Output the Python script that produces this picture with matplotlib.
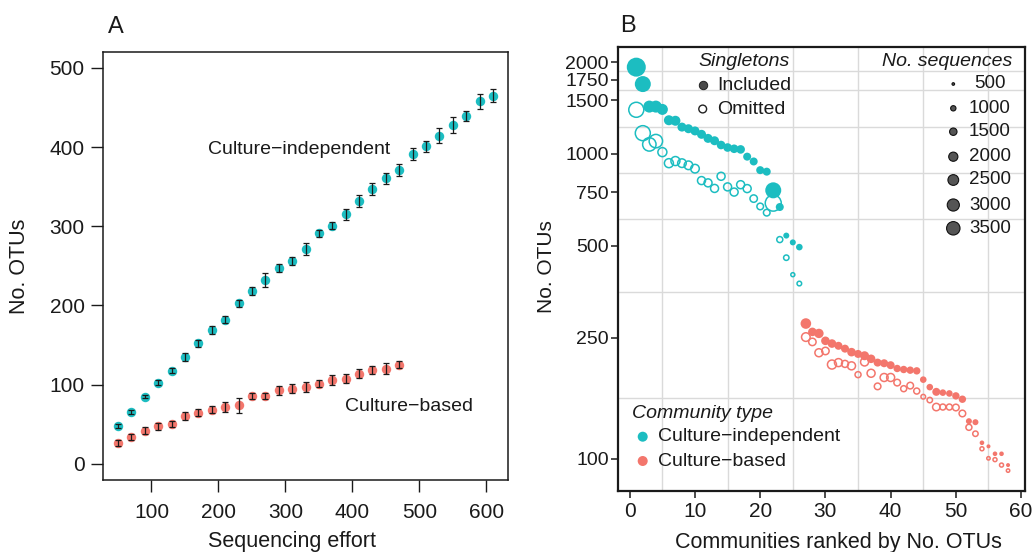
import numpy as np
import matplotlib
matplotlib.use("Agg")
import matplotlib.pyplot as plt
from matplotlib.ticker import NullFormatter

plt.rcParams['font.family'] = ['Liberation Sans', 'DejaVu Sans']

TEAL = "#1CBDC1"
SALMON = "#F3766C"
INK = "#1a1a1a"

# ====== Panel A: rarefaction ======
effort_ci = [50, 70, 90, 110, 130, 150, 170, 190, 210, 230, 250, 270, 290, 310, 330,
             350, 370, 390, 410, 430, 450, 470, 490, 510, 530, 550, 570, 590, 610]
otus_ci = [47.6, 65.3, 84.8, 102.5, 117.7, 135, 151.9, 169, 181.8, 202.5, 218.1, 232, 247.5,
           256.5, 271, 291, 300.5, 315, 332, 347, 360.5, 371, 391.5, 401, 414.5, 428, 439.5,
           457.5, 465]
err_ci = [2.7, 2.1, 2.3, 3.2, 3.6, 5, 4.9, 4.6, 4.6, 4.2, 5.3, 8.4, 4.9, 4.9, 7.8, 4.2, 4.2,
          7, 7.2, 8, 6.8, 7.2, 7.4, 6.8, 8.9, 9.7, 6.3, 9.3, 8]

effort_cb = [50, 70, 90, 110, 130, 150, 170, 190, 210, 230, 250, 270, 290, 310, 330,
             350, 370, 390, 410, 430, 450, 470]
otus_cb = [26.1, 33.7, 41.7, 47.2, 50.6, 59.9, 64.5, 68.3, 71.7, 73.8, 85.6, 85.6, 92.8, 94.9,
           97, 101.3, 105.4, 107.6, 113.9, 118.1, 120.3, 125.3]
err_cb = [4.2, 4.2, 4.6, 4.2, 3.8, 5, 4.6, 4.2, 6.3, 9.3, 4.2, 4, 5.9, 5.5, 6.8, 4.2, 6.3,
          5.9, 5.7, 5, 6.8, 4.2]

# ====== Panel B: ranked communities ======
rank_ci = [1, 2, 3, 4, 5, 6, 7, 8, 9, 10, 11, 12, 13, 14, 15, 16, 17, 18, 19, 20, 21, 22,
           23, 24, 25, 26]
incl_ci = [1926, 1695, 1430, 1430, 1400, 1290, 1285, 1225, 1210, 1190, 1160, 1125, 1105,
           1070, 1050, 1040, 1035, 980, 945, 885, 875, 760, 670, 540, 513, 495]
incl_ci_seq = [6100, 4610, 2950, 2950, 2590, 2255, 2255, 1943, 1943, 1943, 1943, 1943, 1943,
               1825, 1825, 1825, 1825, 1655, 1655, 1655, 1655, 4610, 1655, 1148, 1148, 1290]
omit_ci = [1396, 1170, 1075, 1102, 1014, 933, 948, 933, 918, 895, 818, 804, 771, 845, 780,
           750, 793, 770, 714, 673, 642, 690, 524, 457, 402, 376]
omit_ci_seq = [4160, 4160, 3490, 3490, 1943, 1943, 1943, 1825, 1825, 1825, 1655, 1655, 1655,
               1655, 1655, 1655, 1655, 1655, 1493, 1290, 1290, 4610, 1148, 1014, 733, 848]

rank_cb = [27, 28, 29, 30, 31, 32, 33, 34, 35, 36, 37, 38, 39, 40, 41, 42, 43, 44, 45, 46,
           47, 48, 49, 50, 51, 52, 53, 54, 55, 56, 57, 58]
incl_cb = [278, 261, 258, 244, 239, 235, 230, 224, 221, 218, 213, 207, 206, 203, 198, 196.5,
           195.5, 194.5, 182, 172, 166, 165, 164, 161, 157, 133, 132, 113, 110, 104, 104, 95.5]
incl_cb_seq = [2453, 1825, 2067, 1825, 1825, 1655, 1655, 1825, 1655, 1943, 1825, 1655, 1655,
               1655, 1493, 1493, 1493, 1493, 1290, 1290, 1655, 1290, 1290, 1493, 1493, 1148,
               1148, 848, 733, 848, 848, 733]
omit_cb = [251, 242, 223, 226, 204, 207, 205, 202, 189, 208, 191, 173, 185, 185, 178, 170,
           174, 167, 160, 156, 148, 148, 148, 147.5, 141, 127, 121, 108, 100.5, 99.5, 95.5, 91.6]
omit_cb_seq = [1825, 1493, 1655, 1493, 1943, 1655, 1390, 1655, 1148, 1655, 1655, 1290, 1655,
               1655, 1290, 1148, 1290, 1148, 848, 1014, 1493, 1148, 1148, 1290, 1290, 1148,
               1014, 733, 627, 733, 733, 627]

y_breaks = [100, 250, 500, 750, 1000, 1500, 1750, 2000]
x_breaks = [0, 10, 20, 30, 40, 50, 60]
seq_legend = [500, 1000, 1500, 2000, 2500, 3000, 3500]


def seq_size(n):
    # radius in px grows with sqrt(No. sequences), returned as scatter area (pt^2)
    r_px = np.maximum(0.147 * np.sqrt(np.asarray(n, dtype=float)) - 1.98, 0.8)
    return (2 * r_px * 0.72) ** 2


W, H = 1035, 552
fig = plt.figure(figsize=(W / 100, H / 100), dpi=100)

# ---------- A ----------
axA = fig.add_axes([103 / W, 1 - 480 / H, (508 - 103) / W, (480 - 52) / H])
axA.plot(effort_ci, otus_ci, 'o', color=TEAL, ms=6.8, mec='none', zorder=2)
axA.plot(effort_cb, otus_cb, 'o', color=SALMON, ms=6.8, mec='none', zorder=2)
axA.errorbar(effort_ci, otus_ci, yerr=err_ci, fmt='none', ecolor=INK, elinewidth=0.9,
             capsize=2.3, capthick=0.9, zorder=3)
axA.errorbar(effort_cb, otus_cb, yerr=err_cb, fmt='none', ecolor=INK, elinewidth=0.9,
             capsize=2.3, capthick=0.9, zorder=3)
axA.set_xlim(27.6, 632.4)
axA.set_ylim(-20.5, 520)
axA.set_xticks([100, 200, 300, 400, 500, 600])
axA.set_yticks([0, 100, 200, 300, 400, 500])
axA.tick_params(direction='out', length=8.3, width=1.0, labelsize=15, colors=INK)
axA.tick_params(axis='x', pad=8.5)
axA.tick_params(axis='y', pad=5)
for sp in axA.spines.values():
    sp.set_linewidth(1.1)
    sp.set_color(INK)
axA.set_xlabel("Sequencing effort", fontsize=15.5, color=INK)
axA.xaxis.set_label_coords(0.467, -0.12)
axA.set_ylabel("No. OTUs", fontsize=15.5, color=INK)
axA.yaxis.set_label_coords(-0.18, 0.5)
axA.text(320, 397, "Culture\u2212independent", fontsize=14, ha='center', va='center', color=INK)
axA.text(485, 72, "Culture\u2212based", fontsize=14, ha='center', va='center', color=INK)
fig.text(108 / W, 1 - 27 / H, "A", fontsize=17, va='center', ha='left', color=INK)

# ---------- B ----------
axB = fig.add_axes([617.7 / W, 1 - 490.7 / H, (1025 - 617.7) / W, (490.7 - 46.5) / H])
axB.set_yscale('log')
axB.set_axisbelow(True)

axB.scatter(rank_ci, incl_ci, s=seq_size(incl_ci_seq), color=TEAL, edgecolors='none', zorder=3)
axB.scatter(rank_ci, omit_ci, s=seq_size(omit_ci_seq), facecolors='none', edgecolors=TEAL,
            linewidths=1.1, zorder=4)
axB.scatter(rank_cb, incl_cb, s=seq_size(incl_cb_seq), color=SALMON, edgecolors='none', zorder=3)
axB.scatter(rank_cb, omit_cb, s=seq_size(omit_cb_seq), facecolors='none', edgecolors=SALMON,
            linewidths=1.1, zorder=4)

axB.set_xlim(-1.85, 60.6)
axB.set_ylim(78.7, 2251)
axB.set_yticks(y_breaks)
axB.set_yticklabels([str(v) for v in y_breaks])
axB.set_xticks(x_breaks)
axB.yaxis.set_minor_formatter(NullFormatter())
minor_y = [np.sqrt(a * b) for a, b in zip(y_breaks[:-1], y_breaks[1:])]
minor_x = [(a + b) / 2 for a, b in zip(x_breaks[:-1], x_breaks[1:])]
axB.set_yticks(minor_y, minor=True)
axB.set_xticks(minor_x, minor=True)
axB.grid(which='minor', color='#DADADA', linewidth=1.0)
axB.grid(which='major', visible=False)
axB.tick_params(which='minor', length=0)
axB.tick_params(which='major', direction='out', length=5, width=1.1, colors=INK, pad=1.5)
axB.tick_params(axis='x', labelsize=15, pad=3)
axB.tick_params(axis='y', labelsize=14)
for sp in axB.spines.values():
    sp.set_linewidth(1.6)
    sp.set_color(INK)
axB.set_xlabel("Communities ranked by No. OTUs", fontsize=15.5, color=INK)
axB.xaxis.set_label_coords(0.543, -0.094)
axB.set_ylabel("No. OTUs", fontsize=15, color=INK)
axB.yaxis.set_label_coords(-0.152, 0.504)
fig.text(620 / W, 1 - 26 / H, "B", fontsize=17, va='center', ha='left', color=INK)


def fx(px):
    return (px - 617.7) / 407.3


def fy(py):
    return (490.7 - py) / 444.2


tr = axB.transAxes
# Singletons legend
axB.text(fx(698), fy(61.7), "Singletons", style='italic', fontsize=14, ha='left', va='center',
         transform=tr, color=INK)
axB.scatter([fx(702.7)], [fy(85)], s=(2 * 4.2 * 0.72) ** 2, color='#4a4a4a',
            edgecolors='#222222', linewidths=0.7, transform=tr, clip_on=False, zorder=6)
axB.scatter([fx(702.7)], [fy(109)], s=(2 * 3.9 * 0.72) ** 2, facecolors='none',
            edgecolors='#222222', linewidths=1.0, transform=tr, clip_on=False, zorder=6)
axB.text(fx(717), fy(85), "Included", fontsize=14, ha='left', va='center', transform=tr, color=INK)
axB.text(fx(717), fy(109), "Omitted", fontsize=14, ha='left', va='center', transform=tr, color=INK)

# No. sequences legend
axB.text(fx(1012), fy(61.7), "No. sequences", style='italic', fontsize=14, ha='right',
         va='center', transform=tr, color=INK)
leg_y = [84, 108.3, 131.7, 156.7, 180, 205, 228.3]
axB.scatter([fx(953.3)] * len(seq_legend), [fy(v) for v in leg_y], s=seq_size(seq_legend),
            color='#555555', edgecolors='#111111', linewidths=0.8, transform=tr,
            clip_on=False, zorder=6)
for n, yy in zip(seq_legend, leg_y):
    axB.text(fx(990), fy(yy), str(n), fontsize=13.5, ha='center', va='center', transform=tr,
             color=INK)

# Community type legend
axB.text(fx(631.7), fy(413.3), "Community type", style='italic', fontsize=14, ha='left',
         va='center', transform=tr, color=INK)
axB.scatter([fx(642.7), fx(642.7)], [fy(436.7), fy(461)], s=(2 * 5.0 * 0.72) ** 2,
            color=[TEAL, SALMON], edgecolors='none', transform=tr, clip_on=False, zorder=6)
axB.text(fx(658.3), fy(436.7), "Culture\u2212independent", fontsize=14, ha='left', va='center',
         transform=tr, color=INK)
axB.text(fx(658.3), fy(461), "Culture\u2212based", fontsize=14, ha='left', va='center',
         transform=tr, color=INK)

fig.savefig("out.png", dpi=100)
